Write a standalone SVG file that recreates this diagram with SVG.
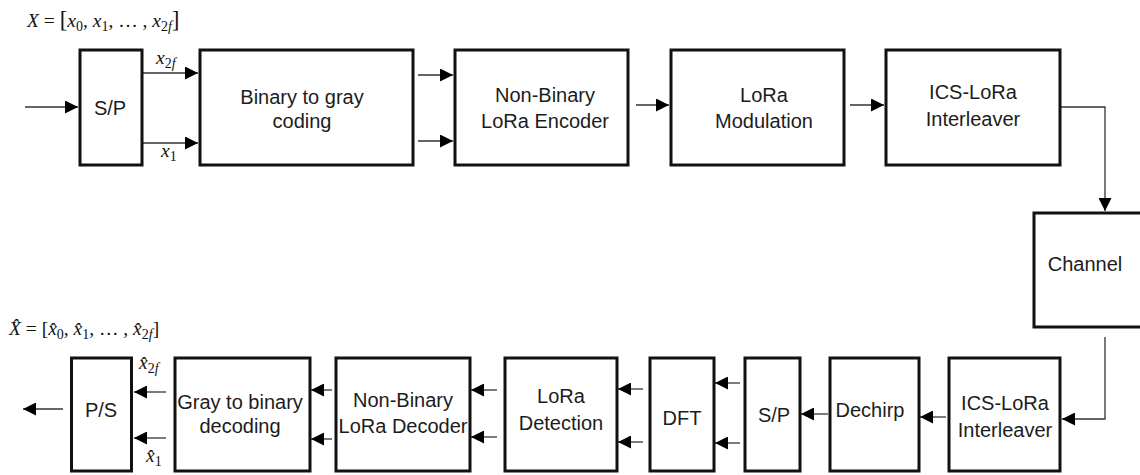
<svg xmlns="http://www.w3.org/2000/svg" width="1140" height="475" viewBox="0 0 1140 475">
  <style>
    .box { fill: #ffffff; stroke: #111111; stroke-width: 3; }
    .lbl { font-family: "Liberation Sans", Arial, sans-serif; font-size: 20px; fill: #1c1c1c; text-anchor: middle; }
    .wire { fill: none; stroke: #333333; stroke-width: 1.3; }
    .m { font-family: "Liberation Serif", "Times New Roman", serif; font-size: 19.5px; fill: #111111; }
    .i { font-style: italic; }
    .s { font-size: 14px; }
    .br { font-size: 23px; }
  </style>
  <defs>
    <marker id="ah" markerUnits="userSpaceOnUse" viewBox="0 0 13 13" markerWidth="13" markerHeight="13" refX="13" refY="6.5" orient="auto">
      <path d="M0,0 L13,6.5 L0,13 z" fill="#000000"/>
    </marker>
  </defs>
  <rect width="1140" height="475" fill="#ffffff"/>

  <!-- math labels -->
  <text class="m" x="27" y="27"><tspan class="i">X</tspan> = <tspan class="br">[</tspan><tspan class="i">x</tspan><tspan class="s" dy="4">0</tspan><tspan dy="-4">, </tspan><tspan class="i">x</tspan><tspan class="s" dy="4">1</tspan><tspan dy="-4">, … , </tspan><tspan class="i">x</tspan><tspan class="s" dy="4">2<tspan class="i">f</tspan></tspan><tspan class="br" dy="-4">]</tspan></text>
  <text class="m" x="9" y="335"><tspan class="i">X̂</tspan> = [<tspan class="i">x̂</tspan><tspan class="s" dy="4">0</tspan><tspan dy="-4">, </tspan><tspan class="i">x̂</tspan><tspan class="s" dy="4">1</tspan><tspan dy="-4">, … , </tspan><tspan class="i">x̂</tspan><tspan class="s" dy="4">2<tspan class="i">f</tspan></tspan><tspan dy="-4">]</tspan></text>
  <text class="m" x="156" y="64"><tspan class="i">x</tspan><tspan class="s" dy="4">2<tspan class="i">f</tspan></tspan></text>
  <text class="m" x="161" y="157"><tspan class="i">x</tspan><tspan class="s" dy="4">1</tspan></text>
  <text class="m" x="139" y="369"><tspan class="i">x̂</tspan><tspan class="s" dy="4">2<tspan class="i">f</tspan></tspan></text>
  <text class="m" x="146" y="462"><tspan class="i">x̂</tspan><tspan class="s" dy="4">1</tspan></text>

  <!-- connectors -->
  <g id="connectors">
    <line class="wire" x1="25" y1="107" x2="78" y2="107" marker-end="url(#ah)"/>
    <line class="wire" x1="143" y1="73" x2="198" y2="73" marker-end="url(#ah)"/>
    <line class="wire" x1="143" y1="143" x2="198" y2="143" marker-end="url(#ah)"/>
    <line class="wire" x1="418" y1="75" x2="453" y2="75" marker-end="url(#ah)"/>
    <line class="wire" x1="418" y1="141" x2="453" y2="141" marker-end="url(#ah)"/>
    <line class="wire" x1="636" y1="105" x2="669" y2="105" marker-end="url(#ah)"/>
    <line class="wire" x1="850" y1="105" x2="884" y2="105" marker-end="url(#ah)"/>
    <polyline class="wire" points="1061,107 1105,107 1105,211" marker-end="url(#ah)"/>
    <polyline class="wire" points="1105,337 1105,419 1062,419" marker-end="url(#ah)"/>
    <line class="wire" x1="946" y1="417" x2="920" y2="417" marker-end="url(#ah)"/>
    <line class="wire" x1="828" y1="414" x2="801" y2="414" marker-end="url(#ah)"/>
    <line class="wire" x1="740" y1="383" x2="715" y2="383" marker-end="url(#ah)"/>
    <line class="wire" x1="740" y1="443" x2="715" y2="443" marker-end="url(#ah)"/>
    <line class="wire" x1="643" y1="389" x2="618" y2="389" marker-end="url(#ah)"/>
    <line class="wire" x1="643" y1="442" x2="618" y2="442" marker-end="url(#ah)"/>
    <line class="wire" x1="497" y1="390" x2="471" y2="390" marker-end="url(#ah)"/>
    <line class="wire" x1="497" y1="437" x2="471" y2="437" marker-end="url(#ah)"/>
    <line class="wire" x1="332" y1="390" x2="311" y2="390" marker-end="url(#ah)"/>
    <line class="wire" x1="332" y1="439" x2="311" y2="439" marker-end="url(#ah)"/>
    <line class="wire" x1="166" y1="392" x2="134" y2="392" marker-end="url(#ah)"/>
    <line class="wire" x1="166" y1="438" x2="134" y2="438" marker-end="url(#ah)"/>
    <line class="wire" x1="63" y1="409" x2="23" y2="409" marker-end="url(#ah)"/>
  </g>

  <!-- top row -->
  <g id="sp-tx"><rect class="box" x="80" y="50" width="62" height="115"/><text class="lbl" x="110" y="115">S/P</text></g>
  <g id="bin2gray"><rect class="box" x="200" y="50" width="213" height="115"/><text class="lbl" x="302" y="104">Binary to gray</text><text class="lbl" x="302" y="128">coding</text></g>
  <g id="nb-encoder"><rect class="box" x="455" y="50" width="173" height="115"/><text class="lbl" x="545" y="102">Non-Binary</text><text class="lbl" x="545" y="128">LoRa Encoder</text></g>
  <g id="lora-mod"><rect class="box" x="671" y="50" width="173" height="115"/><text class="lbl" x="764" y="102">LoRa</text><text class="lbl" x="764" y="128">Modulation</text></g>
  <g id="ics-tx"><rect class="box" x="886" y="50" width="174" height="115"/><text class="lbl" x="973" y="99">ICS-LoRa</text><text class="lbl" x="973" y="126">Interleaver</text></g>
  <g id="channel"><rect class="box" x="1034" y="213" width="120" height="114"/><text class="lbl" x="1085" y="271">Channel</text></g>

  <!-- bottom row -->
  <g id="ps"><rect class="box" x="71.5" y="358" width="60" height="113"/><text class="lbl" x="101" y="417">P/S</text></g>
  <g id="gray2bin"><rect class="box" x="175" y="358" width="135" height="113"/><text class="lbl" x="240" y="409">Gray to binary</text><text class="lbl" x="240" y="433">decoding</text></g>
  <g id="nb-decoder"><rect class="box" x="336" y="358" width="134" height="113"/><text class="lbl" x="403" y="407">Non-Binary</text><text class="lbl" x="403" y="433">LoRa Decoder</text></g>
  <g id="lora-det"><rect class="box" x="505" y="358" width="112" height="113"/><text class="lbl" x="561" y="403">LoRa</text><text class="lbl" x="561" y="430">Detection</text></g>
  <g id="dft"><rect class="box" x="650" y="358" width="64" height="113"/><text class="lbl" x="682" y="425">DFT</text></g>
  <g id="sp-rx"><rect class="box" x="745" y="358" width="55" height="113"/><text class="lbl" x="774" y="422">S/P</text></g>
  <g id="dechirp"><rect class="box" x="830" y="358" width="89" height="113"/><text class="lbl" x="870" y="417">Dechirp</text></g>
  <g id="ics-rx"><rect class="box" x="949" y="358" width="111" height="113"/><text class="lbl" x="1005" y="410">ICS-LoRa</text><text class="lbl" x="1005" y="437">Interleaver</text></g>
</svg>
